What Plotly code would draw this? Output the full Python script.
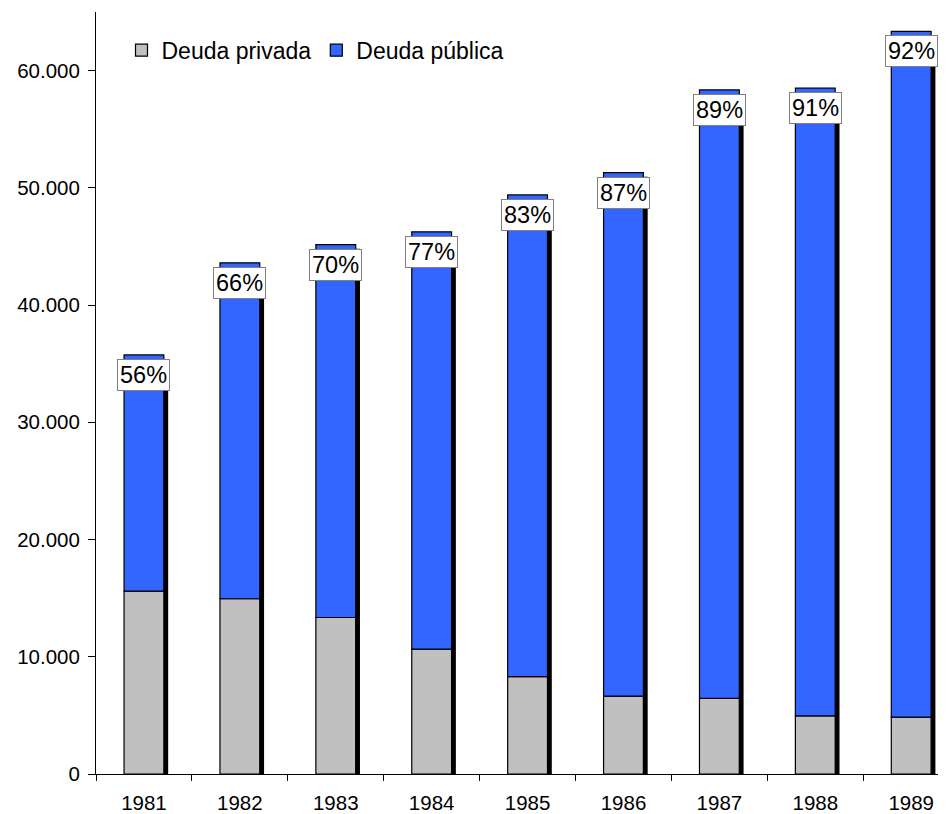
import plotly.graph_objects as go

years = ["1981", "1982", "1983", "1984", "1985", "1986", "1987", "1988", "1989"]
deuda_privada = [15600, 14950, 13350, 10650, 8300, 6650, 6450, 4950, 4850]
deuda_publica = [20150, 28650, 31800, 35600, 41100, 44650, 51900, 53550, 58500]
pct_labels = ["56%", "66%", "70%", "77%", "83%", "87%", "89%", "91%", "92%"]
y_ticks = [0, 10000, 20000, 30000, 40000, 50000, 60000]

totals = [a + b for a, b in zip(deuda_privada, deuda_publica)]

FONT = "Liberation Sans, Arial, sans-serif"
BAR_W = 0.415
SHADOW_DX = 0.045
SHADOW_DY = 350

fig = go.Figure()

# drop shadow
fig.add_trace(go.Bar(
    x=years, y=[t - SHADOW_DY for t in totals], base=0,
    width=BAR_W, offset=-BAR_W / 2 + SHADOW_DX,
    marker=dict(color="black", line=dict(width=0)),
    showlegend=False, hoverinfo="skip",
))
fig.add_trace(go.Bar(
    x=years, y=deuda_privada, base=0, name="Deuda privada",
    width=BAR_W, offset=-BAR_W / 2,
    marker=dict(color="#C0C0C0", line=dict(color="black", width=1.2)),
))
fig.add_trace(go.Bar(
    x=years, y=deuda_publica, base=deuda_privada, name="Deuda pública",
    width=BAR_W, offset=-BAR_W / 2,
    marker=dict(color="#3366FF", line=dict(color="black", width=1.2)),
))

for i, (tot, lab) in enumerate(zip(totals, pct_labels)):
    fig.add_annotation(
        x=i, y=tot, text=lab, showarrow=False, yanchor="top", yshift=-4,
        font=dict(family=FONT, size=23.5, color="black"),
        bgcolor="white", bordercolor="#808080", borderwidth=1, borderpad=2,
    )

fig.update_layout(
    width=938, height=806,
    margin=dict(l=88, r=0, t=4, b=40),
    paper_bgcolor="white", plot_bgcolor="white",
    barmode="overlay",
    separators=",.",
    font=dict(family=FONT, size=20, color="black"),
    legend=dict(
        orientation="h", x=0.03, y=0.978, xanchor="left", yanchor="top",
        font=dict(family=FONT, size=23, color="black"),
        bgcolor="rgba(0,0,0,0)", traceorder="normal",
    ),
    xaxis=dict(
        type="category", range=[-0.5, 8.363], automargin=False,
        showline=True, linecolor="black", linewidth=1,
        ticks="outside", ticklen=6, tickcolor="black", tickson="boundaries",
        ticklabelstandoff=10,
        showgrid=False, zeroline=False,
        tickfont=dict(family=FONT, size=20.5, color="black"),
    ),
    yaxis=dict(
        range=[0, 65000], tickvals=y_ticks, tickformat=",d", automargin=False,
        showline=True, linecolor="black", linewidth=1,
        ticks="outside", ticklen=7, tickcolor="black",
        ticklabelstandoff=4,
        showgrid=False, zeroline=False,
        tickfont=dict(family=FONT, size=20.5, color="black"),
    ),
)

fig.write_html("out.html")
